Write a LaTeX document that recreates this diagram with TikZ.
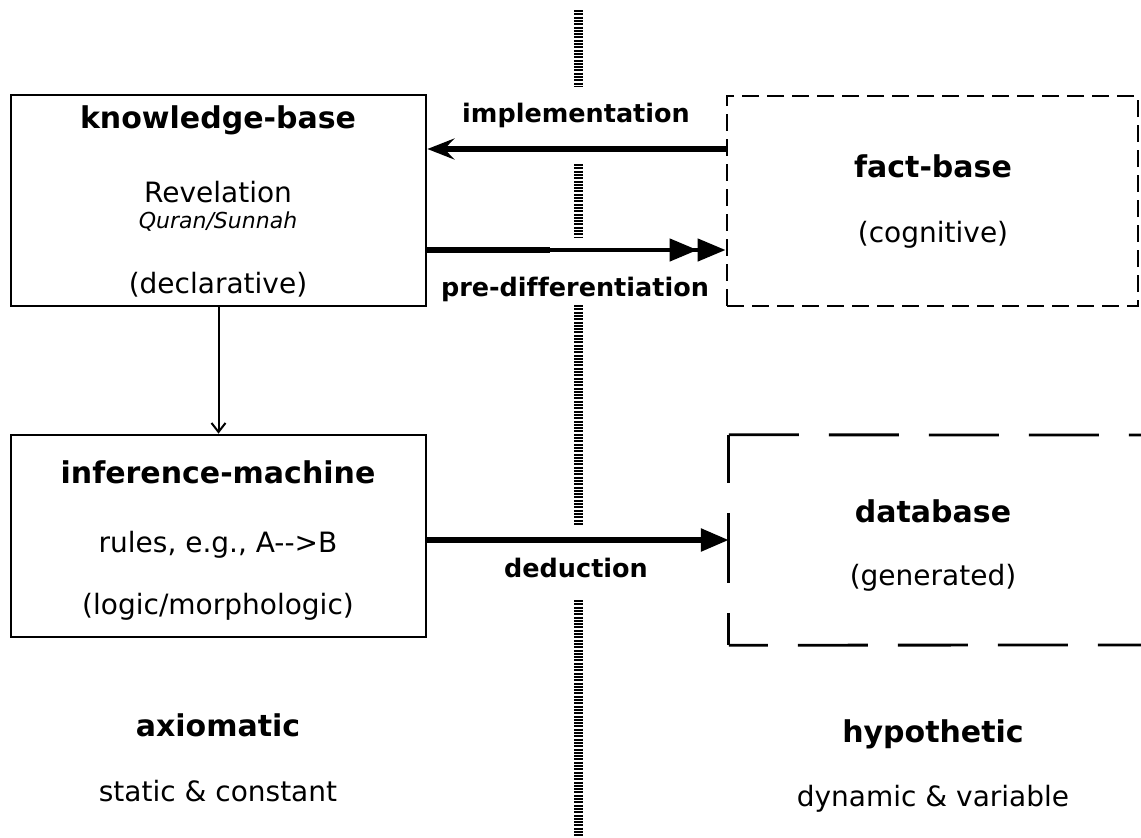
\documentclass[tikz,border=0pt]{standalone}
\usepackage{fontspec}
\setmainfont{DejaVu Sans}[Ligatures=NoCommon]
\usetikzlibrary{arrows.meta}
\begin{document}
\begin{tikzpicture}[x=1pt,y=-1pt,
  solidbox/.style={draw, line width=2.8pt, minimum width=415pt, inner sep=0pt},
  fbbox/.style={draw, line width=2.8pt, dash pattern=on 17pt off 8pt, minimum width=411pt, minimum height=210pt, inner sep=0pt},
  dbline/.style={line width=2.8pt, dash pattern=on 70pt off 30pt},
  ttl/.style={anchor=base, inner sep=0pt, font=\bfseries\fontsize{30}{34}\selectfont},
  body/.style={anchor=base, inner sep=0pt, font=\fontsize{28}{32}\selectfont},
  lbl/.style={anchor=base, inner sep=0pt, font=\bfseries\fontsize{25.5}{30}\selectfont},
  divider/.style={line width=9pt, dash pattern=on 2pt off 1.3pt},
  heavy/.style={line width=5.5pt}
]
\useasboundingbox (0,0) rectangle (1141,838);
% divider
\draw[divider] (578,10) -- (578,86);
\draw[divider] (578,164) -- (578,238);
\draw[divider] (578,305) -- (578,526);
\draw[divider] (578,600) -- (578,836);
% boxes
\node[solidbox, minimum height=211pt] (kb) at (218.5,200.5) {};
\node[solidbox, minimum height=202pt] (im) at (218.5,536) {};
\node[fbbox] (fb) at (932.5,201) {};
\node[minimum width=408pt, minimum height=210pt, inner sep=0pt] (db) at (933,540) {};
\coordinate (dbr1) at (1141,435);
\coordinate (dbr2) at (1141,645);
\draw[dbline] (db.north west) -- (dbr1);
\draw[dbline, dash phase=22pt] (db.north west) -- (db.south west);
\draw[dbline, dash phase=31pt] (db.south west) -- (dbr2);
% texts
\node[ttl] (kbt) at (218,128) {knowledge-base};
\node[body] (kb1) at (218,202) {Revelation};
\node[anchor=base, inner sep=0pt, font=\itshape\fontsize{22}{26}\selectfont] (kb2) at (218,228) {Quran/Sunnah};
\node[body] (kb3) at (218,293) {(declarative)};
\node[ttl] (imt) at (218,483) {inference-machine};
\node[body] (im1) at (218,552) {rules, e.g., A-{}->B};
\node[body] (im2) at (218,614) {(logic/morphologic)};
\node[ttl] (fbt) at (933,177) {fact-base};
\node[body] (fb1) at (933,242) {(cognitive)};
\node[ttl] (dbt) at (933,522) {database};
\node[body] (db1) at (933,585) {(generated)};
\node[ttl] (ax) at (218,736) {axiomatic};
\node[body] (ax1) at (218,801) {static \& constant};
\node[ttl] (hy) at (933,742) {hypothetic};
\node[body] (hy1) at (933,806) {dynamic \& variable};
\node[lbl] (limp) at (576,122) {implementation};
\node[lbl] (lpre) at (575,296) {pre-differentiation};
\node[lbl] (lded) at (576,577) {deduction};
% arrows
\coordinate (prejoin) at (550,250);
\draw[heavy, -{Stealth[length=27pt, width=21pt, inset=10pt]}] (fb.west |- 0,149) -- (kb.east |- 0,149);
\draw[line width=4.5pt, -{Triangle[length=28pt, width=22pt] Triangle[length=28pt, width=22pt]}] (kb.east |- prejoin) -- (fb.west |- prejoin);
\draw[line width=6pt] (kb.east |- prejoin) -- (prejoin);
\draw[heavy, -{Triangle[length=28pt, width=22pt]}] (im.east |- 0,540) -- (db.west |- 0,540);
\draw[line width=2pt, -{Straight Barb[length=9pt, width=14pt]}] (kb.south) -- (im.north);
\end{tikzpicture}
\end{document}
